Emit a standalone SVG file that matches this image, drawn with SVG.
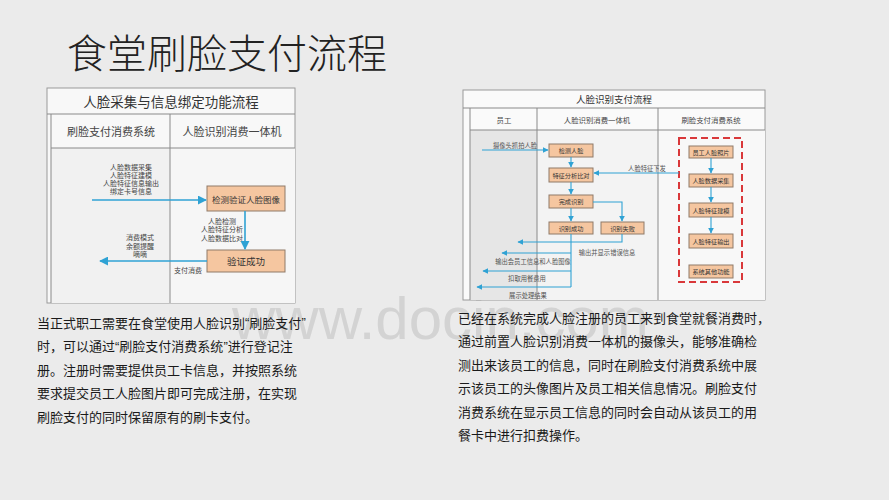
<svg xmlns="http://www.w3.org/2000/svg" width="889" height="500" viewBox="0 0 889 500">
<defs>
<style>
text{font-family:"Noto Sans CJK SC","Noto Sans",sans-serif;dominant-baseline:central;fill:#333}
.ttl{font-size:40px;font-weight:300;fill:#222}
.para{font-size:13px;fill:#1a1a1a}
.q{font-family:"Liberation Sans",sans-serif}
.hdrL{font-size:13.5px;text-anchor:middle;fill:#333}
.colL{font-size:11px;text-anchor:middle;fill:#444}
.smL{font-size:7px;text-anchor:middle;fill:#444}
.boxL{font-size:8.5px;text-anchor:middle;fill:#333}
.hdrR{font-size:9.5px;text-anchor:middle;fill:#333}
.colR{font-size:7.4px;text-anchor:middle;fill:#444}
.smR{font-size:6.3px;text-anchor:middle;fill:#555}
.boxR{font-size:6.2px;text-anchor:middle;fill:#333}
.box{fill:#f5c6a0;stroke:#8f7a68;stroke-width:1}
.grid{stroke:#8a8a8a;stroke-width:1;fill:none}
.conL{stroke:#2fa2d4;stroke-width:1.6;fill:none}
.conR{stroke:#2fa2d4;stroke-width:1.1;fill:none}
</style>
<marker id="aL" viewBox="0 0 10 10" refX="9" refY="5" markerWidth="9" markerHeight="9" markerUnits="userSpaceOnUse" orient="auto"><path d="M0,0 L10,5 L0,10 z" fill="#2fa2d4"/></marker>
<marker id="aS" viewBox="0 0 10 10" refX="9" refY="5" markerWidth="6" markerHeight="6" markerUnits="userSpaceOnUse" orient="auto"><path d="M0,0 L10,5 L0,10 z" fill="#2fa2d4"/></marker>
</defs>
<rect width="889" height="500" fill="#ebebeb"/>
<text x="232" y="318" style="font-family:'Liberation Sans',sans-serif;font-size:60px;fill:#d3d3d3">www.docin.com</text>
<text class="ttl" x="67" y="51">食堂刷脸支付流程</text>

<g id="left-diagram">
<rect x="47" y="88" width="248" height="215" fill="#f8f8f8" stroke="#9a9a9a"/>
<rect x="51" y="148" width="119" height="155" fill="#f1f1f1"/>
<rect x="170" y="148" width="125" height="155" fill="#f6f6f6"/>
<path class="grid" d="M47,114 H295 M51,114 V303 M51,148 H295 M170,114 V303"/>
<text class="hdrL" x="171" y="101">人脸采集与信息绑定功能流程</text>
<text class="colL" x="111" y="131">刷脸支付消费系统</text>
<text class="colL" x="232" y="131">人脸识别消费一体机</text>
</g>
<g id="L-text1">
<text class="smL" x="131" y="166.5">人脸数据采集</text>
<text class="smL" x="131" y="174.8">人脸特征建模</text>
<text class="smL" x="131" y="183.1">人脸特征信息输出</text>
<text class="smL" x="131" y="191.4">绑定卡号信息</text>
</g>
<g id="L-box1"><rect class="box" x="207" y="186" width="78" height="25"/><text class="boxL" x="246" y="199">检测验证人脸图像</text></g>
<g id="L-text2">
<text class="smL" x="222" y="220.5">人脸检测</text>
<text class="smL" x="222" y="229">人脸特征分析</text>
<text class="smL" x="222" y="237.5">人脸数据比对</text>
</g>
<g id="L-box2"><rect class="box" x="207" y="250" width="78" height="22"/><text class="boxL" x="246" y="261" style="font-size:9.5px">验证成功</text></g>
<g id="L-text3">
<text class="smL" x="140" y="237">消费模式</text>
<text class="smL" x="140" y="245.5">余额提醒</text>
<text class="smL" x="140" y="254">嘀嘀</text>
<text class="smL" x="188" y="270">支付消费</text>
</g>
<g id="L-connectors">
<path class="conL" d="M92,200 H206" marker-end="url(#aL)"/>
<path class="conL" d="M245,211 V249" marker-end="url(#aL)"/>
<path class="conL" d="M207,261 H100" marker-end="url(#aL)"/>
</g>

<g id="right-diagram">
<rect x="463" y="90" width="302" height="210" fill="#fafafa" stroke="#9a9a9a"/>
<rect x="470" y="130" width="67" height="170" fill="#e6e6e6"/>
<rect x="537" y="130" width="121" height="170" fill="#f3f3f3"/>
<rect x="658" y="130" width="107" height="170" fill="#f8f8f8"/>
<path class="grid" d="M463,108 H765 M470,108 V300 M470,130 H765 M537,108 V300 M658,108 V300"/>
<text class="hdrR" x="614" y="99">人脸识别支付流程</text>
<text class="colR" x="504" y="119">员工</text>
<text class="colR" x="597" y="119">人脸识别消费一体机</text>
<text class="colR" x="711" y="119">刷脸支付消费系统</text>
<rect x="679" y="138" width="63" height="144" fill="none" stroke="#d9383a" stroke-width="2" stroke-dasharray="7,4"/>
</g>
<g id="R-b1"><rect class="box" x="549" y="144" width="44" height="13"/><text class="boxR" x="571" y="150.5">检测人脸</text></g>
<g id="R-b2"><rect class="box" x="549" y="168" width="44" height="14"/><text class="boxR" x="571" y="175">特征分析比对</text></g>
<g id="R-b3"><rect class="box" x="549" y="195" width="44" height="13"/><text class="boxR" x="571" y="201.5">完成识别</text></g>
<g id="R-b4"><rect class="box" x="549" y="222" width="44" height="12"/><text class="boxR" x="571" y="228">识别成功</text></g>
<g id="R-b5"><rect class="box" x="601" y="222" width="43" height="12"/><text class="boxR" x="622.5" y="228">识别失败</text></g>
<g id="R-s1"><rect class="box" x="689" y="146" width="44" height="12"/><text class="boxR" x="711" y="152">员工人脸照片</text></g>
<g id="R-s2"><rect class="box" x="689" y="174" width="44" height="13"/><text class="boxR" x="711" y="180.5">人脸数据采集</text></g>
<g id="R-s3"><rect class="box" x="689" y="203" width="44" height="14"/><text class="boxR" x="711" y="210">人脸特征建模</text></g>
<g id="R-s4"><rect class="box" x="689" y="234" width="44" height="14"/><text class="boxR" x="711" y="241">人脸特征输出</text></g>
<g id="R-s5"><rect class="box" x="689" y="265" width="44" height="13"/><text class="boxR" x="711" y="271.5">系统其他功能</text></g>
<g id="R-labels">
<text class="smR" x="515" y="145">摄像头抓拍人脸</text>
<text class="smR" x="647" y="168">人脸特征下发</text>
<text class="smR" x="607" y="252">输出并显示错误信息</text>
<text class="smR" x="533" y="261">输出会员工信息和人脸图像</text>
<text class="smR" x="527" y="278.5">扣取用餐费用</text>
<text class="smR" x="528" y="295.5">展示处理结果</text>
</g>
<g id="R-connectors">
<path class="conR" d="M482,150 H548" marker-end="url(#aS)"/>
<path class="conR" d="M571,157 V167" marker-end="url(#aS)"/>
<path class="conR" d="M571,182 V194" marker-end="url(#aS)"/>
<path class="conR" d="M571,208 V221" marker-end="url(#aS)"/>
<path class="conR" d="M593,202 H622 V221" marker-end="url(#aS)"/>
<path class="conR" d="M679,173 H594" marker-end="url(#aS)"/>
<path class="conR" d="M711,158 V173" marker-end="url(#aS)"/>
<path class="conR" d="M711,187 V202" marker-end="url(#aS)"/>
<path class="conR" d="M711,217 V233" marker-end="url(#aS)"/>
<path class="conR" d="M622,234 V242 H518" marker-end="url(#aS)"/>
<path class="conR" d="M571,234 V287"/>
<path class="conR" d="M571,253 H502" marker-end="url(#aS)"/>
<path class="conR" d="M571,271 H483" marker-end="url(#aS)"/>
<path class="conR" d="M571,287 H477" marker-end="url(#aS)"/>
</g>

<g id="para-left">
<text class="para" x="37" y="322">当正式职工需要在食堂使用人脸识别<tspan class="q">“</tspan>刷脸支付<tspan class="q">”</tspan></text>
<text class="para" x="37" y="345.5">时，可以通过<tspan class="q">“</tspan>刷脸支付消费系统<tspan class="q">”</tspan>进行登记注</text>
<text class="para" x="37" y="369">册。注册时需要提供员工卡信息，并按照系统</text>
<text class="para" x="37" y="392.5">要求提交员工人脸图片即可完成注册，在实现</text>
<text class="para" x="37" y="416">刷脸支付的同时保留原有的刷卡支付。</text>
</g>
<g id="para-right">
<text class="para" x="458" y="317">已经在系统完成人脸注册的员工来到食堂就餐消费时，</text>
<text class="para" x="458" y="340.5">通过前置人脸识别消费一体机的摄像头，能够准确检</text>
<text class="para" x="458" y="364">测出来该员工的信息，同时在刷脸支付消费系统中展</text>
<text class="para" x="458" y="387.5">示该员工的头像图片及员工相关信息情况。刷脸支付</text>
<text class="para" x="458" y="411">消费系统在显示员工信息的同时会自动从该员工的用</text>
<text class="para" x="458" y="434.5">餐卡中进行扣费操作。</text>
</g>
</svg>
